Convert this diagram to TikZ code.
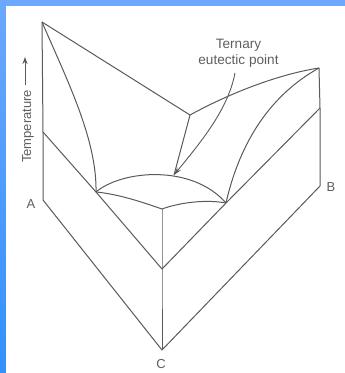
\documentclass[tikz,border=0pt]{standalone}
\usepackage{fontspec}
\setmainfont{Liberation Sans}
\usetikzlibrary{arrows.meta}
\definecolor{bandtop}{RGB}{108,168,255}
\definecolor{bandbot}{RGB}{50,144,255}
\definecolor{ink}{RGB}{90,90,90}
\definecolor{txt}{RGB}{95,95,95}
\tikzset{
  edge/.style={draw=ink,line width=1pt,line join=round},
  lbl/.style={text=txt,font=\fontsize{13}{16}\selectfont,inner sep=0pt},
  pt/.style={coordinate}
}
\begin{document}
\begin{tikzpicture}[x=1pt,y=-1pt]
\useasboundingbox (0,0) rectangle (345,373);
\shade[top color=bandtop,bottom color=bandbot] (0,0) rectangle (345,373);
\fill[white] (6,6) rectangle (345,373);
\node[pt] (At) at (42,22) {};
\node[pt] (Am) at (43,132) {};
\node[pt] (Ab) at (43,200) {};
\node[pt] (Bt) at (319,68) {};
\node[pt] (Bm) at (320,108) {};
\node[pt] (Bb) at (320,186) {};
\node[pt] (Ct) at (162,209) {};
\node[pt] (Cm) at (162,269) {};
\node[pt] (Cb) at (162,350) {};
\node[pt] (P) at (96,192) {};
\node[pt] (Q) at (226,203) {};
\node[pt] (R) at (190,115) {};
\node[pt] (E) at (174,175) {};
\node[pt] (arrowstart) at (235,73) {};
% box edges
\draw[edge] (At) -- (Am) -- (Ab) -- (Cb) -- (Bb) -- (Bm) -- (Bt);
\draw[edge] (Am) -- (P) -- (Cm) -- (Q) -- (Bm);
\draw[edge] (Ct) -- (Cm) -- (Cb);
% liquidus surface
\draw[edge] (At) -- (R) -- (E);
\draw[edge] (R) .. controls (232,92) and (280,74) .. (Bt);
\draw[edge] (At) .. controls (68,82) and (97,140) .. (P);
\draw[edge] (Bt) .. controls (265,98) and (238,150) .. (Q);
\draw[edge] (P) .. controls (122,170) and (192,164) .. (Q);
\draw[edge] (P) .. controls (118,194) and (142,202) .. (Ct);
\draw[edge] (Ct) .. controls (178,203) and (205,199) .. (Q);
% arrow
\draw[edge,line width=0.9pt,-{Stealth[length=8pt,width=4.5pt]}] (arrowstart) .. controls (228,110) and (200,143) .. (E);
% labels
\node[lbl,font=\fontsize{13.6}{16}\selectfont,align=center] (ternary) at (238.5,53) {Ternary\\eutectic point};
\node[lbl,rotate=90,anchor=base west] (temp) at (31,163) {Temperature};
\node[pt] (tempa) at (25,85) {};
\node[pt] (tempb) at (25,57) {};
\draw[edge,-{Stealth[length=7pt,width=5pt]}] (tempa) -- (tempb);
\node[lbl] (a) at (31,204) {A};
\node[lbl] (b) at (331,187) {B};
\node[lbl] (c) at (161,364) {C};
\end{tikzpicture}
\end{document}
